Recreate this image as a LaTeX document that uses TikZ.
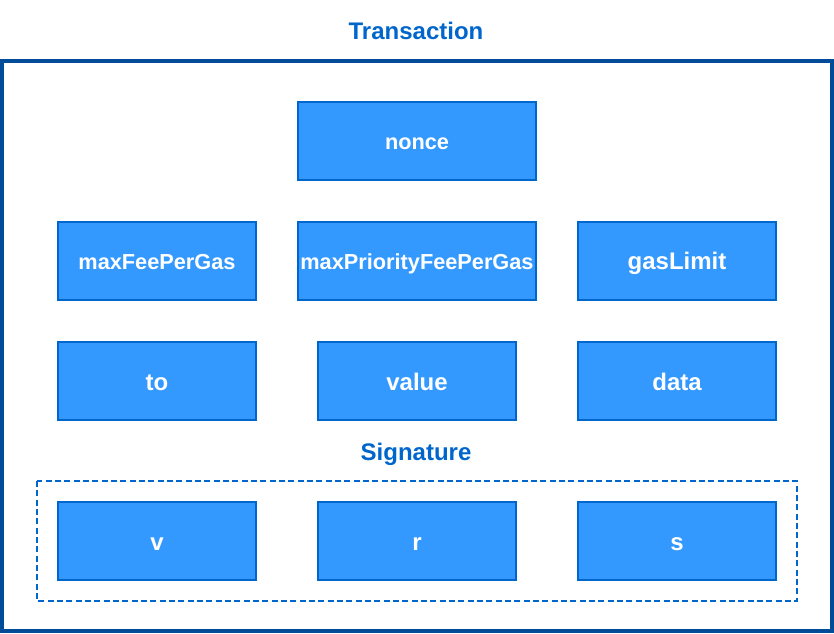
\documentclass[tikz,border=0pt]{standalone}
\usepackage{fontspec}
\setmainfont{Liberation Sans}
\usetikzlibrary{positioning}
\definecolor{mfill}{HTML}{3399FF}
\definecolor{mline}{HTML}{0066CC}
\definecolor{mframe}{HTML}{004C99}
\tikzset{field/.style = {draw=mline, fill=mfill, line width=1.5pt, text=white, inner sep=0,
    font=\bfseries\fontsize{18}{20}\selectfont, text height=13.5pt, text depth=0pt,
    minimum width=149pt, minimum height=59pt}}
\tikzset{small/.style = {font=\bfseries\fontsize{16.3}{18}\selectfont, text height=12.2pt}}
\tikzset{caption/.style = {text=mline, font=\bfseries\fontsize{18}{20}\selectfont, text height=13.5pt, text depth=0pt}}

\begin{document}
\begin{tikzpicture}[x=0.75pt, y=-0.75pt]
    \useasboundingbox (0, 0) rectangle (834, 634);

    \node [caption] (title) at (416, 31) {Transaction};
    \draw [mframe, line width=3pt] (2, 61) rectangle (832, 631);

    \node [field, small, minimum width=179pt] (nonce) at (417, 141) {nonce};

    \node [field, small] (maxfee) at (157, 261) {maxFeePerGas};
    \node [field, small, minimum width=179pt] (maxprio) at (417, 261) {maxPriorityFeePerGas};
    \node [field] (gaslimit) at (677, 261) {gasLimit};

    \node [field] (to) at (157, 381) {to};
    \node [field] (value) at (417, 381) {value};
    \node [field] (data) at (677, 381) {data};

    \node [caption] (sigtitle) at (416, 451) {Signature};
    \draw [mline, line width=1.5pt, dash pattern=on 4.5pt off 2.5pt] (37, 481) rectangle (797, 601);

    \node [field] (v) at (157, 541) {v};
    \node [field] (r) at (417, 541) {r};
    \node [field] (s) at (677, 541) {s};
  \end{tikzpicture}
\end{document}
